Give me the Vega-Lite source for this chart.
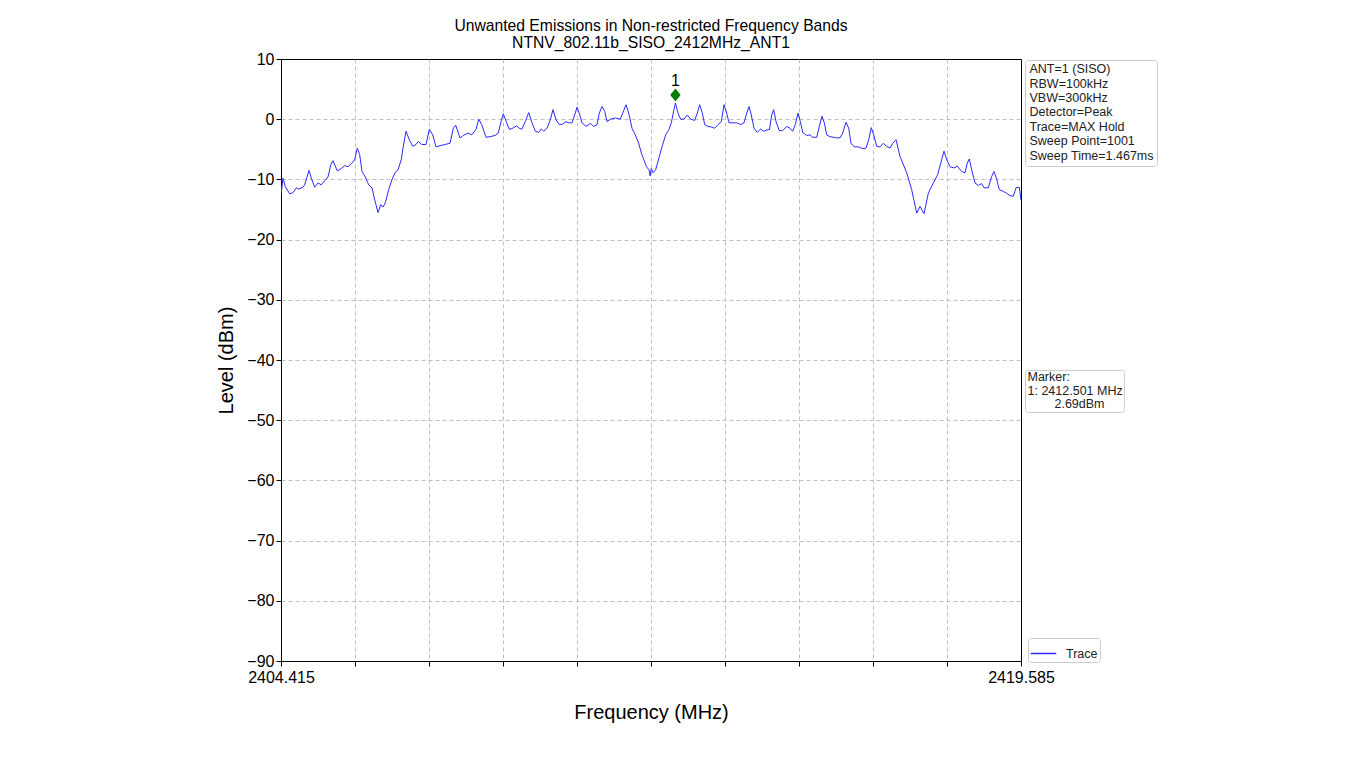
{
  "$schema": "https://vega.github.io/schema/vega-lite/v6.json",
  "width": 740,
  "height": 602,
  "autosize": {"type": "none"},
  "padding": {"left": 281, "top": 59, "right": 331, "bottom": 114},
  "background": "white",
  "title": {
    "text": ["Unwanted Emissions in Non-restricted Frequency Bands", "NTNV_802.11b_SISO_2412MHz_ANT1"],
    "font": "Liberation Sans", "fontSize": 15.7, "fontWeight": "normal", "color": "black",
    "anchor": "middle", "offset": -1, "lineHeight": 17
  },
  "config": {
    "font": "Liberation Sans",
    "view": {"stroke": "black", "strokeWidth": 1},
    "axis": {
      "grid": true, "gridColor": "#b0b0b0", "gridDash": [4, 3], "gridWidth": 0.8,
      "domainColor": "black", "tickColor": "black", "tickSize": 5,
      "labelFont": "Liberation Sans", "labelFontSize": 16, "labelColor": "black",
      "titleFont": "Liberation Sans", "titleFontSize": 20, "titleFontWeight": "normal", "titleColor": "black"
    }
  },
  "datasets": {
    "trace": [
      {"freq": 2404.415, "level": -12.5}, {"freq": 2404.456, "level": -9.8}, {"freq": 2404.503, "level": -11.2},
      {"freq": 2404.593, "level": -12.4}, {"freq": 2404.661, "level": -12.2}, {"freq": 2404.729, "level": -11.4},
      {"freq": 2404.778, "level": -11.6}, {"freq": 2404.866, "level": -11.3}, {"freq": 2404.901, "level": -10.9},
      {"freq": 2404.989, "level": -8.5}, {"freq": 2405.036, "level": -9.8}, {"freq": 2405.106, "level": -11.3},
      {"freq": 2405.174, "level": -10.6}, {"freq": 2405.241, "level": -10.9}, {"freq": 2405.311, "level": -10.2},
      {"freq": 2405.379, "level": -9.6}, {"freq": 2405.434, "level": -7.6}, {"freq": 2405.481, "level": -6.9},
      {"freq": 2405.569, "level": -8.6}, {"freq": 2405.651, "level": -8.2}, {"freq": 2405.721, "level": -7.7},
      {"freq": 2405.789, "level": -7.9}, {"freq": 2405.856, "level": -7.4}, {"freq": 2405.926, "level": -6.7},
      {"freq": 2405.979, "level": -4.8}, {"freq": 2406.028, "level": -5.9}, {"freq": 2406.076, "level": -8.7},
      {"freq": 2406.143, "level": -9.6}, {"freq": 2406.213, "level": -10.9}, {"freq": 2406.281, "level": -11.4},
      {"freq": 2406.336, "level": -13.4}, {"freq": 2406.404, "level": -15.5}, {"freq": 2406.459, "level": -14.2},
      {"freq": 2406.506, "level": -14.6}, {"freq": 2406.553, "level": -13.9}, {"freq": 2406.623, "level": -11.7},
      {"freq": 2406.691, "level": -10.0}, {"freq": 2406.758, "level": -8.8}, {"freq": 2406.814, "level": -8.4},
      {"freq": 2406.881, "level": -6.7}, {"freq": 2406.916, "level": -4.8}, {"freq": 2406.978, "level": -2.0},
      {"freq": 2407.045, "level": -3.4}, {"freq": 2407.115, "level": -4.5}, {"freq": 2407.183, "level": -4.2},
      {"freq": 2407.230, "level": -3.7}, {"freq": 2407.299, "level": -4.2}, {"freq": 2407.388, "level": -4.2},
      {"freq": 2407.455, "level": -1.7}, {"freq": 2407.525, "level": -2.6}, {"freq": 2407.593, "level": -4.6},
      {"freq": 2407.675, "level": -4.4}, {"freq": 2407.777, "level": -4.2}, {"freq": 2407.880, "level": -4.0},
      {"freq": 2407.947, "level": -1.5}, {"freq": 2407.996, "level": -1.0}, {"freq": 2408.085, "level": -3.1},
      {"freq": 2408.152, "level": -2.7}, {"freq": 2408.255, "level": -2.3}, {"freq": 2408.324, "level": -2.6},
      {"freq": 2408.413, "level": -1.7}, {"freq": 2408.468, "level": 0.0}, {"freq": 2408.529, "level": -0.9},
      {"freq": 2408.618, "level": -3.0}, {"freq": 2408.700, "level": -2.9}, {"freq": 2408.802, "level": -2.7},
      {"freq": 2408.870, "level": -2.3}, {"freq": 2408.925, "level": -0.4}, {"freq": 2408.972, "level": 0.9},
      {"freq": 2409.042, "level": -0.6}, {"freq": 2409.095, "level": -1.7}, {"freq": 2409.165, "level": -1.5},
      {"freq": 2409.247, "level": -1.1}, {"freq": 2409.315, "level": -1.6}, {"freq": 2409.356, "level": -1.6},
      {"freq": 2409.423, "level": -0.4}, {"freq": 2409.493, "level": 1.1}, {"freq": 2409.561, "level": -0.6},
      {"freq": 2409.628, "level": -2.0}, {"freq": 2409.698, "level": -2.2}, {"freq": 2409.751, "level": -1.6},
      {"freq": 2409.800, "level": -2.0}, {"freq": 2409.868, "level": -1.5}, {"freq": 2409.936, "level": -0.1},
      {"freq": 2409.991, "level": 1.6}, {"freq": 2410.053, "level": -0.1}, {"freq": 2410.120, "level": -0.9},
      {"freq": 2410.190, "level": -0.8}, {"freq": 2410.258, "level": -0.4}, {"freq": 2410.313, "level": -0.6},
      {"freq": 2410.381, "level": -0.6}, {"freq": 2410.436, "level": 0.7}, {"freq": 2410.483, "level": 2.0},
      {"freq": 2410.530, "level": 1.0}, {"freq": 2410.586, "level": -0.6}, {"freq": 2410.668, "level": -1.2},
      {"freq": 2410.756, "level": -0.7}, {"freq": 2410.825, "level": -1.2}, {"freq": 2410.893, "level": -0.9},
      {"freq": 2410.940, "level": 1.0}, {"freq": 2410.996, "level": 2.1}, {"freq": 2411.051, "level": 1.3},
      {"freq": 2411.098, "level": -0.4}, {"freq": 2411.166, "level": 0.0}, {"freq": 2411.268, "level": 0.2},
      {"freq": 2411.371, "level": 0.0}, {"freq": 2411.420, "level": 1.0}, {"freq": 2411.488, "level": 2.4},
      {"freq": 2411.543, "level": 1.0}, {"freq": 2411.611, "level": -1.5}, {"freq": 2411.678, "level": -2.6},
      {"freq": 2411.748, "level": -4.0}, {"freq": 2411.801, "level": -5.6}, {"freq": 2411.857, "level": -6.8},
      {"freq": 2411.908, "level": -7.9}, {"freq": 2411.959, "level": -8.4}, {"freq": 2411.980, "level": -9.4},
      {"freq": 2412.006, "level": -8.2}, {"freq": 2412.041, "level": -8.9}, {"freq": 2412.096, "level": -8.4},
      {"freq": 2412.164, "level": -6.4}, {"freq": 2412.232, "level": -4.4}, {"freq": 2412.301, "level": -2.6},
      {"freq": 2412.369, "level": -1.7}, {"freq": 2412.416, "level": -0.6}, {"freq": 2412.472, "level": 1.6},
      {"freq": 2412.501, "level": 2.69}, {"freq": 2412.554, "level": 1.0}, {"freq": 2412.609, "level": 0.0},
      {"freq": 2412.677, "level": 0.0}, {"freq": 2412.744, "level": 0.7}, {"freq": 2412.814, "level": 0.0},
      {"freq": 2412.896, "level": -0.2}, {"freq": 2412.949, "level": 1.0}, {"freq": 2412.998, "level": 2.4},
      {"freq": 2413.052, "level": 1.0}, {"freq": 2413.101, "level": -0.9}, {"freq": 2413.169, "level": -1.2},
      {"freq": 2413.236, "level": -1.3}, {"freq": 2413.306, "level": -1.5}, {"freq": 2413.374, "level": -0.9},
      {"freq": 2413.441, "level": -0.4}, {"freq": 2413.497, "level": 2.4}, {"freq": 2413.552, "level": 1.0},
      {"freq": 2413.599, "level": -0.6}, {"freq": 2413.667, "level": -0.6}, {"freq": 2413.757, "level": -0.6},
      {"freq": 2413.839, "level": -0.9}, {"freq": 2413.907, "level": -0.6}, {"freq": 2413.962, "level": 1.0},
      {"freq": 2414.009, "level": 2.1}, {"freq": 2414.056, "level": 0.7}, {"freq": 2414.112, "level": -1.5},
      {"freq": 2414.179, "level": -2.2}, {"freq": 2414.249, "level": -1.6}, {"freq": 2414.302, "level": -2.0},
      {"freq": 2414.378, "level": -1.8}, {"freq": 2414.429, "level": -1.7}, {"freq": 2414.474, "level": 0.7},
      {"freq": 2414.515, "level": 1.6}, {"freq": 2414.563, "level": -0.4}, {"freq": 2414.630, "level": -1.9},
      {"freq": 2414.700, "level": -1.9}, {"freq": 2414.782, "level": -1.2}, {"freq": 2414.850, "level": -1.5},
      {"freq": 2414.905, "level": -2.0}, {"freq": 2414.958, "level": -0.9}, {"freq": 2415.014, "level": 1.0},
      {"freq": 2415.061, "level": -0.4}, {"freq": 2415.110, "level": -2.2}, {"freq": 2415.192, "level": -2.7},
      {"freq": 2415.260, "level": -2.6}, {"freq": 2415.315, "level": -3.0}, {"freq": 2415.397, "level": -3.0},
      {"freq": 2415.450, "level": -1.2}, {"freq": 2415.506, "level": 0.5}, {"freq": 2415.553, "level": -0.6},
      {"freq": 2415.602, "level": -2.6}, {"freq": 2415.670, "level": -2.9}, {"freq": 2415.737, "level": -3.0},
      {"freq": 2415.807, "level": -3.1}, {"freq": 2415.875, "level": -3.1}, {"freq": 2415.930, "level": -2.3},
      {"freq": 2415.998, "level": -0.5}, {"freq": 2416.053, "level": -1.5}, {"freq": 2416.100, "level": -4.0},
      {"freq": 2416.168, "level": -4.6}, {"freq": 2416.258, "level": -4.6}, {"freq": 2416.340, "level": -4.9},
      {"freq": 2416.408, "level": -4.8}, {"freq": 2416.463, "level": -3.4}, {"freq": 2416.516, "level": -1.4},
      {"freq": 2416.565, "level": -2.6}, {"freq": 2416.627, "level": -4.5}, {"freq": 2416.695, "level": -4.6},
      {"freq": 2416.762, "level": -4.0}, {"freq": 2416.832, "level": -4.5}, {"freq": 2416.900, "level": -4.8},
      {"freq": 2416.955, "level": -4.0}, {"freq": 2417.023, "level": -3.4}, {"freq": 2417.105, "level": -6.2},
      {"freq": 2417.242, "level": -8.9}, {"freq": 2417.344, "level": -11.7}, {"freq": 2417.447, "level": -15.6},
      {"freq": 2417.515, "level": -14.5}, {"freq": 2417.597, "level": -15.7}, {"freq": 2417.685, "level": -12.3},
      {"freq": 2417.787, "level": -10.6}, {"freq": 2417.877, "level": -9.2}, {"freq": 2417.959, "level": -6.7},
      {"freq": 2418.007, "level": -5.3}, {"freq": 2418.062, "level": -6.7}, {"freq": 2418.130, "level": -7.9},
      {"freq": 2418.212, "level": -8.1}, {"freq": 2418.279, "level": -7.8}, {"freq": 2418.369, "level": -8.7},
      {"freq": 2418.437, "level": -8.9}, {"freq": 2418.484, "level": -7.3}, {"freq": 2418.525, "level": -6.6},
      {"freq": 2418.574, "level": -8.4}, {"freq": 2418.642, "level": -10.6}, {"freq": 2418.710, "level": -11.0},
      {"freq": 2418.779, "level": -10.7}, {"freq": 2418.827, "level": -11.4}, {"freq": 2418.915, "level": -11.4},
      {"freq": 2418.984, "level": -9.5}, {"freq": 2419.032, "level": -8.7}, {"freq": 2419.087, "level": -10.0},
      {"freq": 2419.140, "level": -11.7}, {"freq": 2419.222, "level": -12.0}, {"freq": 2419.292, "level": -12.3},
      {"freq": 2419.360, "level": -12.7}, {"freq": 2419.427, "level": -12.8}, {"freq": 2419.483, "level": -11.4},
      {"freq": 2419.550, "level": -11.3}, {"freq": 2419.585, "level": -13.4}
    ],
    "marker": [{"freq": 2412.501, "level": 2.69, "label": "1"}],
    "info": [
      {"line": "ANT=1 (SISO)"}, {"line": "RBW=100kHz"}, {"line": "VBW=300kHz"}, {"line": "Detector=Peak"},
      {"line": "Trace=MAX Hold"}, {"line": "Sweep Point=1001"}, {"line": "Sweep Time=1.467ms"}
    ],
    "markerinfo": [
      {"line": "Marker:"}, {"line": "1: 2412.501 MHz"}, {"line": "\u2800\u2800\u20072.69dBm"}
    ]
  },
  "layer": [
    {
      "data": {"name": "trace"},
      "mark": {"type": "line", "strokeWidth": 1, "clip": true},
      "encoding": {
        "x": {
          "field": "freq", "type": "quantitative",
          "scale": {"domain": [2404.415, 2419.585], "nice": false, "zero": false},
          "axis": {
            "values": [2404.415, 2405.932, 2407.449, 2408.966, 2410.483, 2412.0, 2413.517, 2415.034, 2416.551, 2418.068, 2419.585],
            "labelExpr": "(datum.value < 2404.5 || datum.value > 2419.5) ? format(datum.value, '.3f') : ''",
            "gridOpacity": {"condition": {"test": "datum.value > 2419.5", "value": 0}, "value": 1},
            "labelPadding": 3, "titlePadding": 17, "labelFlush": false, "labelOverlap": false
          },
          "title": "Frequency (MHz)"
        },
        "y": {
          "field": "level", "type": "quantitative",
          "scale": {"domain": [-90, 10], "nice": false, "zero": false},
          "axis": {
            "values": [-90, -80, -70, -60, -50, -40, -30, -20, -10, 0, 10],
            "labelExpr": "datum.value < 0 ? '\u2212' + format(-datum.value, 'd') : format(datum.value, 'd')",
            "gridOpacity": {"condition": {"test": "datum.value > 9", "value": 0}, "value": 1},
            "labelPadding": 2, "titlePadding": 10
          },
          "title": "Level (dBm)"
        },
        "color": {
          "datum": "Trace", "type": "nominal",
          "scale": {"range": ["#2a2aff"]},
          "legend": {
            "orient": "none", "legendX": 747, "legendY": 579, "title": null,
            "symbolType": "stroke", "symbolSize": 650, "symbolStrokeWidth": 1.5,
            "labelFont": "Liberation Sans", "labelFontSize": 12.5, "labelColor": "#222", "labelOffset": 9,
            "padding": 2, "fillColor": "white", "strokeColor": "#cccccc", "cornerRadius": 3
          }
        }
      }
    },
    {
      "data": {"name": "marker"},
      "mark": {"type": "point", "shape": "M-0.8,0L0,-1L0.8,0L0,1Z", "filled": true, "color": "#008000", "opacity": 1, "size": 170, "yOffset": -8},
      "encoding": {
        "x": {"field": "freq", "type": "quantitative"},
        "y": {"field": "level", "type": "quantitative"}
      }
    },
    {
      "data": {"name": "marker"},
      "mark": {"type": "text", "font": "Liberation Sans", "fontSize": 16, "color": "black", "baseline": "alphabetic", "dy": -17},
      "encoding": {
        "x": {"field": "freq", "type": "quantitative"},
        "y": {"field": "level", "type": "quantitative"},
        "text": {"field": "label"}
      }
    },
    {
      "data": {"name": "info"},
      "mark": {"type": "point", "opacity": 0},
      "encoding": {
        "shape": {
          "field": "line", "type": "nominal",
          "scale": {"domain": ["ANT=1 (SISO)", "RBW=100kHz", "VBW=300kHz", "Detector=Peak", "Trace=MAX Hold", "Sweep Point=1001", "Sweep Time=1.467ms"]},
          "legend": {
            "orient": "none", "legendX": 744, "legendY": 1, "title": null,
            "symbolSize": 0, "symbolOpacity": 0, "symbolStrokeWidth": 0, "labelOffset": -11,
            "labelFont": "Liberation Sans", "labelFontSize": 12.5, "labelColor": "#222", "rowPadding": 1.4,
            "padding": 3, "fillColor": "white", "strokeColor": "#cccccc", "cornerRadius": 3
          }
        }
      }
    },
    {
      "data": {"name": "markerinfo"},
      "mark": {"type": "point", "opacity": 0},
      "encoding": {
        "strokeDash": {
          "field": "line", "type": "nominal",
          "scale": {"domain": ["Marker:", "1: 2412.501 MHz", "\u2800\u2800\u20072.69dBm"]},
          "legend": {
            "orient": "none", "legendX": 744, "legendY": 311, "title": null,
            "symbolSize": 0, "symbolOpacity": 0, "symbolStrokeWidth": 0, "labelOffset": -11,
            "labelFont": "Liberation Sans", "labelFontSize": 12.5, "labelColor": "#222", "rowPadding": 0.5,
            "padding": 1, "fillColor": "white", "strokeColor": "#cccccc", "cornerRadius": 3
          }
        }
      }
    }
  ]
}
